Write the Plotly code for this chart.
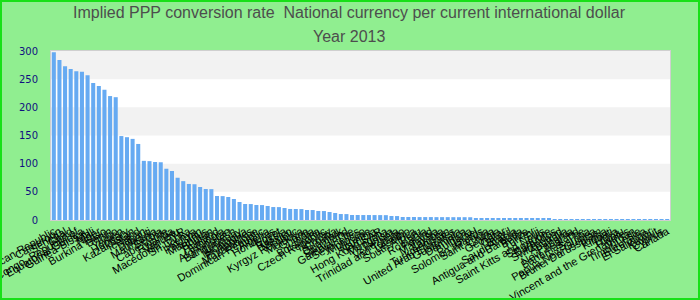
import plotly.graph_objects as go

countries = [
    "Central African Republic", "Cameroon", "Senegal", "Chad", "Congo, Republic of",
    "Equatorial Guinea", "Guinea-Bissau", "Mali", "Niger", "Burkina Faso",
    "Benin", "Togo", "Yemen", "Hungary", "Kazakhstan",
    "Iceland", "Japan", "Djibouti", "Mauritania", "Serbia",
    "Cape Verde", "Rwanda", "Vanuatu", "Macedonia, FYR", "Sri Lanka",
    "Kenya", "Pakistan", "Mauritius", "Bhutan", "Thailand",
    "Ethiopia", "Afghanistan", "Bangladesh", "Uruguay", "Nicaragua",
    "Philippines", "Mozambique", "Dominican Republic", "Algeria", "Honduras",
    "Egypt", "Russia", "Mexico", "Kyrgyz Republic", "Moldova",
    "Ghana", "India", "Botswana", "Czech Republic", "Norway",
    "Croatia", "Denmark", "Swaziland", "Gambia, The", "Seychelles",
    "Morocco", "Ukraine", "Namibia", "Hong Kong SAR", "Mongolia",
    "Tunisia", "Venezuela", "Trinidad and Tobago", "Lesotho", "South Africa",
    "Peru", "Romania", "Poland", "Malaysia", "Zambia",
    "Turkmenistan", "United Arab Emirates", "Guatemala", "Dominica", "Bulgaria",
    "Israel", "Solomon Islands", "Saint Lucia", "China", "Georgia",
    "Qatar", "Brazil", "Saudi Arabia", "Antigua and Barbuda", "Belize",
    "Turkey", "Fiji", "Saint Kitts and Nevis", "Singapore", "Barbados",
    "Switzerland", "Australia", "Panama", "New Zealand", "Bahamas, The",
    "Samoa", "Papua New Guinea", "Brunei Darussalam", "Tonga", "Kiribati",
    "Libya", "Tuvalu", "St. Vincent and the Grenadines", "Jordan", "Timor-Leste",
    "Euro area", "El Salvador", "Kuwait", "Cyprus", "Canada",
]

ppp_rate = [
    298, 284, 273, 268, 264,
    263, 257, 243, 238, 231,
    220, 218, 149, 147, 144,
    135, 105, 104.5, 103, 102.5,
    91, 87, 75, 69, 64,
    63.5, 58.6, 55, 54.8, 42.6,
    42.4, 40.8, 37.3, 32, 28.4,
    28.3, 26.6, 26.5, 24.9, 23.0,
    22.9, 21.3, 19.6, 19.5, 19.4,
    17.8, 17.7, 16.0, 15.9, 14.2,
    12.4, 10.6, 10.5, 8.9, 8.9,
    8.8, 8.8, 8.75, 8.7, 8.6,
    7.1, 7.0, 5.3, 5.3, 5.3,
    5.2, 5.2, 5.2, 5.1, 5.1,
    5.1, 5.0, 5.0, 5.0, 4.9,
    3.5, 3.5, 3.45, 3.4, 3.4,
    3.4, 3.3, 3.3, 3.2, 1.9,
    1.9, 1.85, 1.8, 1.8, 1.75,
    1.7, 1.6, 1.55, 1.5, 1.5,
    1.45, 1.4, 1.4, 1.35, 1.35,
    1.3, 1.3, 1.3, 1.28, 1.27,
    1.26, 1.25, 1.25, 1.24, 1.24,
]

y_ticks = [0, 50, 100, 150, 200, 250, 300]
bands = [(50, 100), (150, 200), (250, 300)]

title_line1 = "Implied PPP conversion rate  National currency per current international dollar"
title_line2 = "Year 2013"

# layout geometry (pixels)
W, H = 700, 300
L, R, T, B = 51, 30, 51, 80
pw, ph = W - L - R, H - T - B


def px_x(x):
    return (x - L) / pw


def px_y(y):
    return (H - B - y) / ph


fig = go.Figure()
fig.add_trace(go.Bar(
    x=countries, y=ppp_rate,
    marker=dict(color="rgb(102,170,242)", line=dict(width=0)),
))

shapes = []
for y0, y1 in bands:
    shapes.append(dict(type="rect", xref="paper", yref="y", x0=0, x1=1, y0=y0, y1=y1,
                       fillcolor="#f2f2f2", line=dict(width=0), layer="below"))
shapes.append(dict(type="rect", xref="paper", yref="paper",
                   x0=px_x(1), x1=px_x(699), y0=px_y(299), y1=px_y(1),
                   line=dict(color="#18e018", width=2), fillcolor="rgba(0,0,0,0)", layer="above"))

annotations = [
    dict(text=title_line1, xref="paper", yref="paper", x=px_x(349), y=px_y(13),
         showarrow=False, xanchor="center", yanchor="middle",
         font=dict(family="Liberation Sans, Arial", size=16, color="#4d4d4d")),
    dict(text=title_line2, xref="paper", yref="paper", x=px_x(349), y=px_y(36),
         showarrow=False, xanchor="center", yanchor="middle",
         font=dict(family="Liberation Sans, Arial", size=16, color="#4d4d4d")),
]

fig.update_layout(
    width=W, height=H,
    margin=dict(l=L, r=R, t=T, b=B, pad=0, autoexpand=False),
    paper_bgcolor="#90ee90",
    plot_bgcolor="white",
    bargap=0.28,
    showlegend=False,
    shapes=shapes,
    annotations=annotations,
    xaxis=dict(
        type="category", automargin=False,
        tickmode="array", tickvals=countries, ticktext=countries,
        tickangle=-30,
        tickfont=dict(family="Liberation Sans, Arial", size=11, color="#000000"),
        showgrid=False, zeroline=False,
        showline=True, linecolor="#cfcfcf", linewidth=1, mirror=True,
        ticks="",
    ),
    yaxis=dict(
        range=[0, 300], automargin=False,
        tickmode="array", tickvals=y_ticks,
        tickfont=dict(family="DejaVu Sans", size=10, color="#101080"),
        showgrid=False, zeroline=False,
        showline=True, linecolor="#cfcfcf", linewidth=1, mirror=True,
        ticks="", ticklabelstandoff=10,
    ),
)

fig.write_html("out.html")
